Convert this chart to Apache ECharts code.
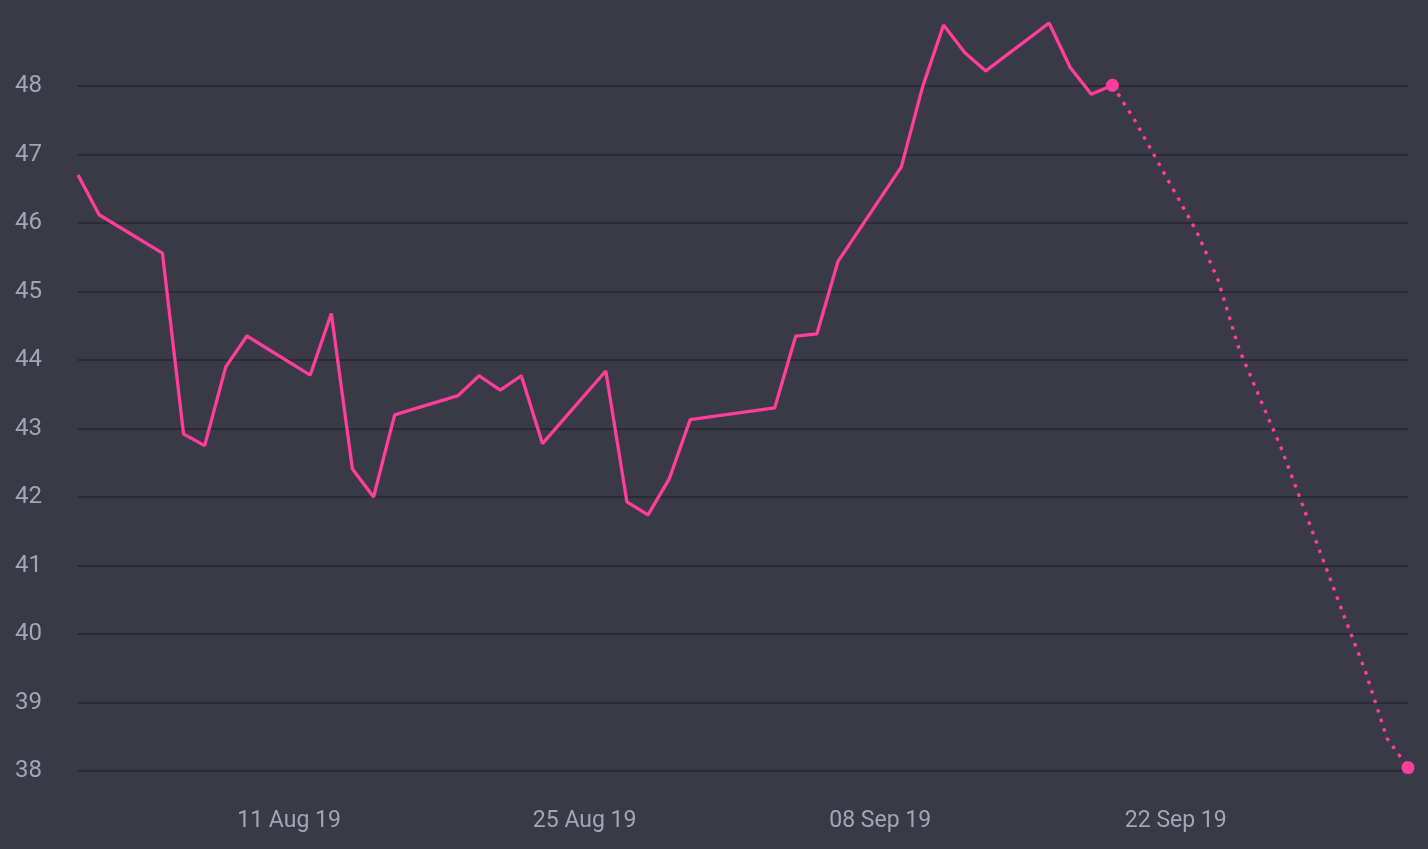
<!DOCTYPE html>
<html>
<head>
<meta charset="utf-8">
<title>Price with forecast</title>
<script src="https://cdn.jsdelivr.net/npm/echarts@6/dist/echarts.min.js"></script>
<style>
  html, body { margin: 0; padding: 0; background: #3a3a47; }
  #chart { width: 1428px; height: 849px; }
</style>
</head>
<body>
<div id="chart"></div>
<script>
// actual closes (trading days)
const actualDates = [
  '2019-08-01', '2019-08-02', '2019-08-05', '2019-08-06', '2019-08-07', '2019-08-08', '2019-08-09',
  '2019-08-12', '2019-08-13', '2019-08-14', '2019-08-15', '2019-08-16',
  '2019-08-19', '2019-08-20', '2019-08-21', '2019-08-22', '2019-08-23',
  '2019-08-26', '2019-08-27', '2019-08-28', '2019-08-29', '2019-08-30',
  '2019-09-03', '2019-09-04', '2019-09-05', '2019-09-06',
  '2019-09-09', '2019-09-10', '2019-09-11', '2019-09-12', '2019-09-13',
  '2019-09-16', '2019-09-17', '2019-09-18', '2019-09-19'
]
const actualValues = [
  46.7, 46.12, 45.56, 42.92, 42.75, 43.9, 44.35,
  43.78, 44.68, 42.41, 42.0, 43.2,
  43.48, 43.77, 43.56, 43.77, 42.78,
  43.84, 41.93, 41.74, 42.26, 43.13,
  43.3, 44.35, 44.38, 45.44,
  46.82, 47.98, 48.89, 48.49, 48.22,
  48.92, 48.27, 47.88, 48.01
]
// forecast, starts at the last actual point
const forecastDates = [
  '2019-09-19', '2019-09-20', '2019-09-23', '2019-09-24', '2019-09-25', '2019-09-26', '2019-09-27',
  '2019-09-30', '2019-10-01', '2019-10-02', '2019-10-03'
]
const forecastValues = [48.01, 47.53, 45.87, 45.17, 44.16, 43.43, 42.71, 40.24, 39.44, 38.48, 38.05]

const xTickDates = ['2019-08-11', '2019-08-25', '2019-09-08', '2019-09-22']
const yTicks = [38, 39, 40, 41, 42, 43, 44, 45, 46, 47, 48, 49]

const MONTHS = ['Jan', 'Feb', 'Mar', 'Apr', 'May', 'Jun', 'Jul', 'Aug', 'Sep', 'Oct', 'Nov', 'Dec']
const toTime = s => {
  const p = s.split('-').map(Number)
  return new Date(p[0], p[1] - 1, p[2]).getTime()
}
const fmtDate = v => {
  const d = new Date(v)
  const dd = String(d.getDate()).padStart(2, '0')
  return dd + ' ' + MONTHS[d.getMonth()] + ' ' + String(d.getFullYear()).slice(2)
}

const PINK = '#ff3d9a'
const LABEL = {
  color: '#a4a4b4',
  fontFamily: "'Roboto', sans-serif",
  fontSize: 23
}

const chart = echarts.init(document.getElementById('chart'))

// every split line dark, except the one at the top (49) which stays hidden
const splitColors = yTicks.map((v, i) => (i === yTicks.length - 1 ? 'rgba(0,0,0,0)' : '#2b2b35'))

const option = {
  backgroundColor: '#3a3a47',
  animation: false,
  grid: {
    left: 78,
    right: 20,
    top: 17.5,
    bottom: 78
  },
  xAxis: {
    // timestamps on a value axis, so the labels can sit on fixed dates
    type: 'value',
    min: toTime(actualDates[0]),
    max: toTime(forecastDates[forecastDates.length - 1]),
    axisLine: { show: false },
    axisTick: { show: false },
    splitLine: { show: false },
    axisLabel: {
      ...LABEL,
      margin: 39,
      customValues: xTickDates.map(toTime),
      formatter: v => fmtDate(v)
    }
  },
  yAxis: {
    type: 'value',
    min: yTicks[0],
    max: yTicks[yTicks.length - 1],
    interval: 1,
    axisLine: { show: false },
    axisTick: { show: false },
    splitLine: {
      show: true,
      lineStyle: { color: splitColors, width: 2 }
    },
    axisLabel: {
      ...LABEL,
      fontSize: 24,
      margin: 36,
      showMaxLabel: false
    }
  },
  series: [
    {
      name: 'actual',
      type: 'line',
      data: actualDates.map((d, i) => [toTime(d), actualValues[i]]),
      showSymbol: false,
      symbol: 'none',
      lineStyle: { color: PINK, width: 3.3 },
      z: 3
    },
    {
      name: 'forecast',
      type: 'line',
      data: forecastDates.map((d, i) => {
        const last = i === 0 || i === forecastDates.length - 1
        return {
          value: [toTime(d), forecastValues[i]],
          symbol: last ? 'circle' : 'none',
          symbolSize: 13
        }
      }),
      itemStyle: { color: PINK },
      lineStyle: { color: PINK, width: 3.3, type: [3.5, 6.5] },
      z: 3
    }
  ]
}

chart.setOption(option)
window.addEventListener('resize', () => chart.resize())
</script>
</body>
</html>
